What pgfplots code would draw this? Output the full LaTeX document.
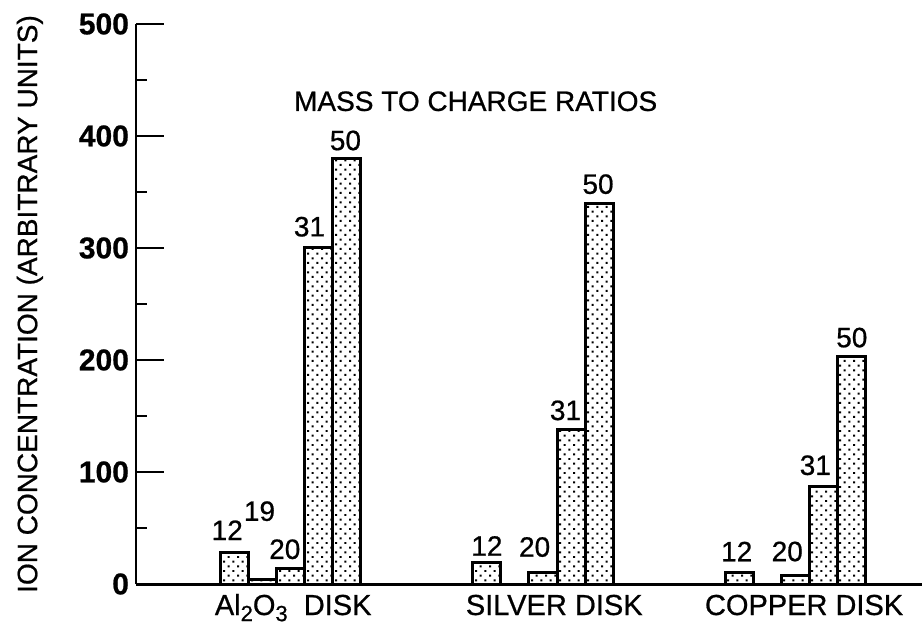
\documentclass[border=0pt]{standalone}
\usepackage{fontspec}
\setmainfont{Liberation Sans}[FakeBold=0.7]
\usepackage{pgfplots}
\usepackage{pgfplotstable}
\pgfplotsset{compat=1.18}
\usetikzlibrary{patterns.meta}

\pgfplotstableread{
x y
0 28
1 4
2 14
3 300
4 380
9 19
11 10
12 138
13 340
18 10
20 8
21 87
22 203
}\datatable

\begin{document}
\begin{tikzpicture}[font=\fontsize{14}{16}\selectfont]
\useasboundingbox (-68pt,-21.5pt) rectangle (393pt,292pt);
\begin{axis}[
  at={(0,0)}, anchor=south west,
  scale only axis, width=393pt, height=280pt,
  xmin=-3.5, xmax=24.5, ymin=0, ymax=500,
  axis x line=bottom, axis y line=left,
  axis line style={-, line width=1.1pt},
  x axis line style={line width=1.5pt},
  ytick={0,100,...,500}, minor ytick={50,150,...,450},
  tick align=inside,
  major tick length=14pt, minor tick length=5.5pt,
  tick style={black, line width=1pt},
  xtick={2.1,11.4,20.3},
  xticklabels={Al{\raisebox{-0.4ex}{\fontsize{11}{12}\selectfont 2}}O{\raisebox{-0.4ex}{\fontsize{11}{12}\selectfont 3}}\ \ DISK, SILVER DISK, COPPER DISK},
  xtick style={draw=none},
  xticklabel style={anchor=base, yshift=-15.5pt, font=\fontsize{14.5}{16}\selectfont},
  yticklabel style={font=\fontsize{15}{16}\selectfont\bfseries},
  /pgf/number format/assume math mode=true,
  ylabel={ION CONCENTRATION (ARBITRARY UNITS)},
  ylabel style={at={(axis description cs:-0.135,0.5)}, anchor=center},
  clip=false,
]
\addplot[ybar, bar width=1, bar shift=0pt, draw=black, line width=1.5pt,
  pattern={Dots[distance=3.3pt, radius=0.7pt, angle=45]}, pattern color=black]
  table[x=x, y=y] {\datatable};

\node at (axis cs:-0.25,48) {12};
\node at (axis cs:0.9,65) {19};
\node at (axis cs:1.8,31) {20};
\node at (axis cs:2.68,319) {31};
\node at (axis cs:3.96,396) {50};
\node at (axis cs:9,34) {12};
\node at (axis cs:10.7,33) {20};
\node at (axis cs:11.8,155) {31};
\node at (axis cs:12.96,357) {50};
\node at (axis cs:17.9,29) {12};
\node at (axis cs:19.7,29) {20};
\node at (axis cs:20.7,106) {31};
\node at (axis cs:22.0,220) {50};
\node at (axis cs:8.6,431) {MASS TO CHARGE RATIOS};
\end{axis}
\end{tikzpicture}
\end{document}
